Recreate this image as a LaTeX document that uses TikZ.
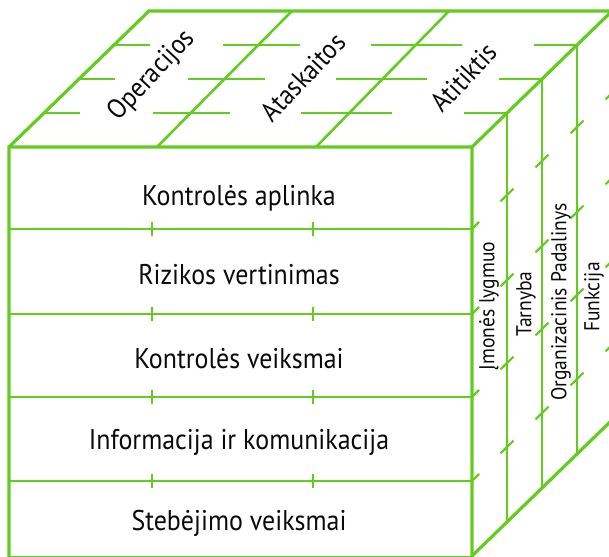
\documentclass[tikz,border=0pt]{standalone}
\usepackage{fontspec}
\setmainfont{PT Sans}[FakeStretch=0.91]
\definecolor{cg}{RGB}{100,204,30}
\definecolor{txt}{RGB}{10,10,10}
\begin{document}
\begin{tikzpicture}[x=1pt,y=-1pt,
  edge/.style={draw=cg,line width=3.2pt,line join=miter},
  inner/.style={draw=cg,line width=2.6pt},
  tickmark/.style={draw=cg,line width=2.2pt},
  fronttxt/.style={font=\fontsize{28.5}{28}\selectfont,text=txt,anchor=base,inner sep=0pt},
  sidetxt/.style={font=\fontsize{21.5}{22}\selectfont,text=txt,rotate=90,inner sep=0pt},
  toptxt/.style={font=\fontsize{27.5}{27}\selectfont,text=txt,rotate=47,inner sep=0pt}]
\useasboundingbox (0,0) rectangle (609,556);
\clip (0,0) rectangle (609,556);

% front face rows and ticks
\foreach \y in {229,314,397,481} {
  \draw[inner] (9,\y) -- (472,\y);
  \draw[tickmark] (152,\y-7) -- (152,\y+7);
  \draw[tickmark] (313,\y-7) -- (313,\y+7);
  \draw[tickmark] (472,\y) -- (479,\y-7);
  \draw[tickmark] (612-6.5,\y-136+6.4) -- (612+6.5,\y-136-6.4);
}

% side face verticals with slanted ticks
\foreach \s in {0.25,0.5,0.75} {
  \draw[inner] ({472+140*\s},{147-136*\s}) -- ({472+140*\s},{556-136*\s});
  \foreach \y in {229,314,397,481}
    \draw[tickmark] ({472+140*\s-6.5},{\y-136*\s+6.4}) -- ({472+140*\s+6.5},{\y-136*\s-6.4});
}

% top face dashed lines
\foreach \s in {0.25,0.5,0.75} {
  \foreach \a/\b in {9/45,118/195,266/357,429/472}
    \draw[inner] ({\a+140*\s},{147-136*\s}) -- ({\b+140*\s},{147-136*\s});
}

% top face diagonals
\draw[inner] (157,147) -- (292,11);
\draw[inner] (316,147) -- (449,11);

% outer edges
\draw[edge] (9,558) -- (9,147) -- (472,147) -- (472,556) -- (612,420) -- (612,11);
\draw[edge] (9,147) -- (149,11) -- (612,11) -- (472,147);
\draw[edge] (9,558) -- (472,558);

% front labels
\node[fronttxt] (r1) at (239,205) {Kontrolės aplinka};
\node[fronttxt] (r2) at (239,284) {Rizikos vertinimas};
\node[fronttxt] (r3) at (239,368) {Kontrolės veiksmai};
\node[fronttxt] (r4) at (239,449) {Informacija ir komunikacija};
\node[fronttxt] (r5) at (239,530) {Stebėjimo veiksmai};

% top labels
\node[toptxt] (t1) at (152,76) {Operacijos};
\node[toptxt] (t2) at (303,77) {Ataskaitos};
\node[toptxt] (t3) at (464,77) {Atitiktis};

% side labels
\node[sidetxt] (s1) at (489,306) {Įmonės lygmuo};
\node[sidetxt] (s2) at (526,304) {Tarnyba};
\node[sidetxt] (s3) at (561,302) {Organizacinis Padalinys};
\node[sidetxt] (s4) at (594,297) {Funkcija};
\end{tikzpicture}
\end{document}
